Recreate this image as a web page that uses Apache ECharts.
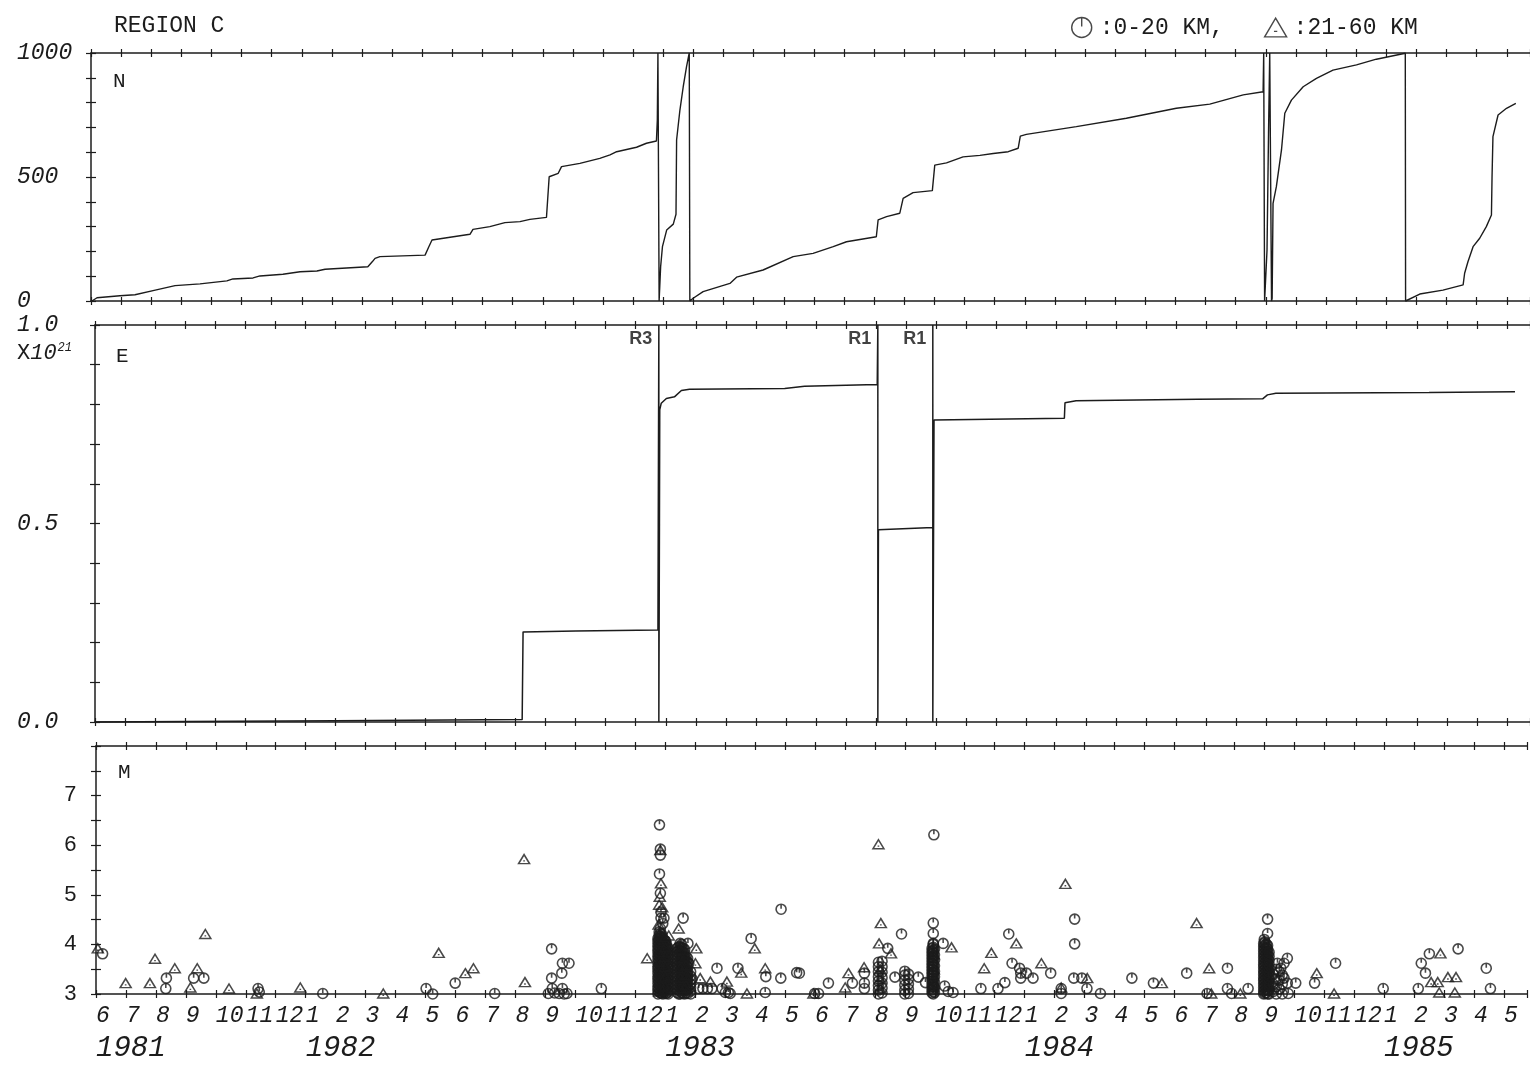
<!DOCTYPE html>
<html><head><meta charset="utf-8">
<script src="https://cdn.jsdelivr.net/npm/echarts@6/dist/echarts.min.js"></script>
<style>html,body{margin:0;padding:0;background:#fff}#c{width:1530px;height:1069px}</style>
</head><body><div id="c"></div>
<script>
// ---------- axis / tick labels ----------
const XMAX = 47.77; // months since 1981-06-01
const monthLabels = ['6','7','8','9','10','11','12','1','2','3','4','5',
                     '6','7','8','9','10','11','12','1','2','3','4','5',
                     '6','7','8','9','10','11','12','1','2','3','4','5',
                     '6','7','8','9','10','11','12','1','2','3','4','5'];
const yearTicks = [0, 7, 19, 31, 43];
const yearNames = ['1981', '1982', '1983', '1984', '1985'];
const nLabels = [0, 500, 1000];
const eLabels = [0, 0.5, 1.0];
const mLabels = [3, 4, 5, 6, 7];

// ---------- N: cumulative number (wraps at 1000) ----------
const nCurve = [
[0.03,0],[0.2,13],[0.25,16],[0.96,21],[1.46,25],[2.06,42],[2.79,62],[3.62,69],[4.51,81],[4.71,89],
[5.38,93],[5.61,101],[6.37,108],[6.94,118],[7.50,121],[7.77,128],[9.19,138],[9.35,160],[9.43,172],[9.59,179],
[11.09,185],[11.2,215],[11.32,246],[11.92,257],[12.58,269],[12.68,289],[13.24,300],[13.74,316],[14.24,320],
[14.57,329],[15.12,337],[15.16,345],[15.21,501],[15.51,515],[15.62,542],[16.23,555],[16.89,575],[17.23,589],
[17.45,602],[18.11,620],[18.44,636],[18.77,645],[18.80,730],[18.82,1000],[18.86,1000],[18.86,0],[18.89,0],
[18.91,138],[18.97,219],[19.11,286],[19.33,310],[19.42,350],[19.44,649],[19.55,770],[19.66,864],[19.77,945],
[19.86,1000],[19.88,1000],[19.88,0],[19.99,11],[20.32,38],[21.21,71],[21.43,96],[22.31,125],[23.31,179],
[23.97,192],[24.64,219],[25.08,239],[26.07,259],[26.13,327],[26.41,340],[26.85,354],[26.96,414],[27.29,437],
[27.93,445],[28.01,548],[28.40,557],[28.95,581],[29.51,587],[29.95,595],[30.45,602],[30.78,616],[30.85,665],
[31.05,672],[32.71,703],[34.37,737],[36.03,777],[37.14,794],[38.25,831],[38.91,844],[38.93,1000],[38.96,1000],
[38.96,0],[39.0,0],[39.04,206],[39.09,676],[39.13,1000],[39.19,1000],[39.19,0],[39.21,11],[39.24,394],
[39.35,461],[39.52,609],[39.63,757],[39.85,810],[40.24,864],[40.68,898],[41.23,931],[42.01,952],[42.67,975],
[43.63,999],[43.64,999],[43.64,0],[43.67,0],[44.11,28],[44.88,44],[45.55,65],[45.60,112],[45.71,158],
[45.88,219],[46.10,253],[46.32,300],[46.49,347],[46.51,501],[46.54,663],[46.71,750],[46.99,777],[47.30,797]
];

// ---------- E: cumulative energy x10^21 (wraps at 1.0) ----------
const eCurve = [
[0,0],[3,0.001],[8,0.003],[14.22,0.006],[14.25,0.006],[14.25,0.227],[16,0.229],[18.74,0.232],[18.77,0.232],
[18.77,1.0],[18.77,0],[18.79,0.5],[18.80,0.786],[18.85,0.803],[19.02,0.815],[19.29,0.819],[19.52,0.835],
[19.79,0.838],[22.96,0.840],[23.62,0.846],[26.04,0.850],[26.06,0.850],[26.06,1.0],[26.06,0],[26.08,0.484],
[27.89,0.490],[27.89,1.0],[27.89,0],[27.93,0.761],[32.27,0.765],[32.29,0.804],[32.66,0.809],[36.70,0.813],
[38.87,0.814],[39.03,0.824],[39.31,0.828],[44.41,0.830],[47.27,0.832]
];
const resetNames = ['R3', 'R1', 'R1'];
const resetTimes = [18.77, 26.06, 27.89];

// ---------- M: magnitudes, focal depth 0-20 km (circles) ----------
const shallowSingle = [
[0.22,3.81],[2.33,3.11],[2.35,3.32],[3.26,3.32],[3.60,3.32],[5.41,3.11],[5.45,3.04],[7.57,3.01],[11.02,3.11],[11.24,3.0],[11.99,3.22],[13.31,3.01],
[15.10,3.01],[15.21,3.91],[15.21,3.32],[15.23,3.11],[15.31,3.02],[15.46,3.01],[15.55,3.42],[15.57,3.62],[15.57,3.11],[15.63,3.0],[15.72,3.01],[15.79,3.62],[16.87,3.11],
[18.81,6.41],[18.84,5.92],[18.84,5.80],[18.81,5.42],[18.84,5.03],[18.86,4.65],[18.86,4.53],[18.96,4.53],[18.84,4.32],[18.92,4.42],
[19.60,4.53],[19.76,4.02],[19.79,3.62],[19.9,3.3],[20.12,3.11],[20.26,3.11],[20.41,3.11],[20.56,3.11],[20.73,3.52],[20.90,3.11],[21.01,3.03],[21.11,3.03],[21.17,3.01],
[21.43,3.52],[21.87,4.12],[22.34,3.03],[22.36,3.35],[22.86,3.32],[22.87,4.71],[23.39,3.43],[23.48,3.42],[23.99,3.01],[24.12,3.01],[24.45,3.22],[25.25,3.22],[25.65,3.42],[25.65,3.22],[25.65,3.11],
[26.43,3.92],[26.89,4.21],[26.67,3.34],[27.45,3.34],[27.69,3.23],[27.97,6.21],[27.95,4.43],[27.95,4.22],[27.95,4.02],[28.28,4.02],[28.33,3.16],[28.45,3.05],[28.61,3.03],
[29.54,3.11],[30.11,3.11],[30.34,3.23],[30.47,4.21],[30.58,3.62],[30.83,3.52],[30.87,3.42],[30.87,3.32],[31.06,3.42],[31.28,3.32],[31.87,3.42],[32.22,3.11],[32.22,3.01],
[32.67,4.51],[32.67,4.01],[32.64,3.32],[32.91,3.32],[33.08,3.11],[33.53,3.01],[34.58,3.32],[35.30,3.22],[36.41,3.42],[37.09,3.01],[37.77,3.52],[37.77,3.11],[37.91,3.01],[38.46,3.11],
[39.11,4.51],[39.11,4.22],[39.0,4.1],[39.44,3.62],[39.66,3.62],[39.77,3.72],[39.55,3.52],[39.66,3.32],[39.77,3.22],[39.80,3.01],[40.05,3.22],
[40.68,3.22],[41.38,3.62],[42.97,3.11],[44.14,3.11],[44.24,3.62],[44.38,3.42],[44.51,3.81],[45.47,3.91],[46.41,3.52],[46.55,3.11]
];
// swarm columns: [time, [magnitudes...]]
const shallowSwarms = [
[18.76,[3.0,3.07,3.13,3.21,3.28,3.34,3.42,3.49,3.55,3.63,3.7,3.77,3.84,3.9,3.98,4.05,4.12]],
[18.80,[3.04,3.11,3.19,3.26,3.33,3.4,3.47,3.54,3.61,3.68,3.75,3.82,3.89,3.96,4.03,4.1,4.18,4.25]],
[18.84,[3.02,3.1,3.17,3.24,3.3,3.38,3.45,3.52,3.6,3.66,3.73,3.8,3.88,3.95,4.02,4.08,4.16,4.22]],
[18.89,[3.01,3.08,3.15,3.22,3.29,3.36,3.43,3.5,3.57,3.64,3.71,3.78,3.85,3.92,3.99,4.06,4.14,4.2]],
[18.93,[3.0,3.05,3.12,3.2,3.26,3.33,3.41,3.47,3.54,3.61,3.69,3.76,3.83,3.9,3.97,4.04,4.1]],
[18.98,[3.03,3.1,3.17,3.24,3.31,3.38,3.46,3.53,3.6,3.67,3.74,3.81,3.88,3.95,4.02,4.08]],
[19.02,[3.01,3.09,3.15,3.23,3.3,3.36,3.44,3.5,3.58,3.65,3.72,3.79,3.86,3.93,4.0,4.06]],
[19.06,[3.02,3.09,3.17,3.24,3.32,3.39,3.46,3.54,3.61,3.68,3.76,3.83,3.9,3.97]],
[19.10,[3.0,3.06,3.14,3.22,3.29,3.35,3.43,3.51,3.57,3.64,3.71,3.78,3.85,3.92]],
[19.40,[3.03,3.1,3.18,3.26,3.34,3.41,3.49,3.56,3.63,3.7,3.78,3.85,3.92]],
[19.45,[3.0,3.08,3.15,3.22,3.3,3.37,3.44,3.52,3.59,3.66,3.74,3.81,3.88,3.95]],
[19.50,[3.0,3.06,3.13,3.2,3.27,3.35,3.42,3.5,3.57,3.64,3.72,3.8,3.87,3.95,4.02]],
[19.55,[3.02,3.1,3.17,3.25,3.32,3.4,3.47,3.55,3.62,3.7,3.77,3.85,3.93,4.0]],
[19.60,[3.01,3.08,3.16,3.23,3.31,3.38,3.46,3.53,3.61,3.68,3.76,3.84,3.92]],
[19.65,[3.0,3.07,3.14,3.21,3.29,3.36,3.43,3.51,3.58,3.66,3.74,3.82,3.9]],
[19.70,[3.02,3.1,3.18,3.26,3.34,3.42,3.5,3.58,3.66,3.75]],
[19.75,[3.01,3.09,3.16,3.24,3.31,3.39,3.46,3.55,3.64,3.72]],
[19.85,[3.0,3.06,3.13,3.2,3.28,3.36,3.45]],
[26.12,[3.0,3.08,3.17,3.26,3.35,3.45,3.55,3.64]],
[26.24,[3.02,3.12,3.22,3.33,3.44,3.55,3.66]],
[27.0,[3.0,3.08,3.18,3.28,3.38,3.46]],
[27.12,[3.01,3.1,3.2,3.3,3.4]],
[27.91,[3.02,3.08,3.14,3.2,3.26,3.32,3.38,3.44,3.5,3.56,3.62,3.68,3.74,3.8,3.86,3.92]],
[27.95,[3.0,3.05,3.1,3.16,3.21,3.27,3.32,3.38,3.43,3.49,3.55,3.6,3.66,3.72,3.77,3.83,3.88,3.94,4.0]],
[27.99,[3.03,3.13,3.24,3.35,3.46,3.57,3.68,3.79,3.9]],
[38.98,[3.0,3.06,3.13,3.2,3.27,3.33,3.4,3.47,3.54,3.6,3.67,3.74,3.81,3.88,3.95,4.02]],
[39.02,[3.01,3.08,3.15,3.22,3.29,3.36,3.43,3.5,3.57,3.64,3.71,3.78,3.85,3.92,3.99,4.05]],
[39.07,[3.02,3.09,3.16,3.23,3.3,3.37,3.44,3.51,3.58,3.65,3.72,3.79,3.86,3.93,4.0]],
[39.11,[3.0,3.07,3.14,3.21,3.28,3.35,3.42,3.49,3.56,3.63,3.7,3.77,3.84,3.91,3.98]],
[39.16,[3.0,3.08,3.15,3.22,3.3,3.37,3.45,3.52,3.6,3.68,3.76,3.84]],
[39.3,[3.05,3.2,3.4]],[39.4,[3.0,3.15,3.3,3.5]],[39.5,[3.1,3.28,3.45]],[39.6,[3.0,3.2,3.38]]
];

// ---------- M: magnitudes, focal depth 21-60 km (triangles) ----------
const deepSingle = [
[0.06,3.92],[0.99,3.22],[1.80,3.22],[1.97,3.71],[2.63,3.52],[3.15,3.13],[3.38,3.52],[3.65,4.21],[4.44,3.11],[5.37,3.01],[6.82,3.13],[9.59,3.01],
[11.44,3.83],[12.33,3.42],[12.60,3.52],[14.29,5.72],[14.32,3.24],[18.40,3.72],
[18.84,5.90],[18.86,5.23],[18.82,4.96],[18.80,4.80],[18.90,4.75],[18.78,4.40],[19.45,4.32],[19.12,4.18],[20.04,3.92],[20.01,3.62],[20.17,3.32],
[20.51,3.25],[21.06,3.25],[21.54,3.43],[21.73,3.01],[21.99,3.92],[22.34,3.52],[23.95,3.01],
[25.01,3.13],[25.12,3.42],[25.64,3.54],[26.12,6.02],[26.20,4.43],[26.14,4.02],[26.54,3.82],[28.56,3.94],[29.65,3.52],[29.89,3.83],[30.72,4.02],
[31.56,3.62],[32.22,3.13],[32.36,5.22],[33.09,3.32],[35.58,3.22],[36.74,4.43],[37.16,3.52],[37.23,3.01],[38.20,3.01],[40.75,3.42],[41.33,3.01],
[44.57,3.24],[44.79,3.24],[44.84,3.03],[44.88,3.82],[45.13,3.34],[45.40,3.34],[45.36,3.03]
];
const deepSwarms = [
[18.80,[3.05,3.25,3.45,3.65,3.85,4.05,4.2]],
[19.00,[3.15,3.35,3.55,3.75,3.95,4.15]],
[19.50,[3.12,3.32,3.52,3.72,3.9]],
[19.70,[3.18,3.38,3.58,3.78]],
[26.18,[3.1,3.3,3.5]],
[27.97,[3.2,3.5,3.8]]
];

// ---------- build ----------
const INK = '#1c1c1c';
const FONT = '"Liberation Mono", "DejaVu Sans Mono", monospace';
const circleSym = 'path://M0,-10A10,10,0,1,1,0,10A10,10,0,1,1,0,-10ZM0,-10L0,-1';
const triSym = 'path://M0,-9L10,8L-10,8ZM-1.5,3L1.5,3';

function flatten(single, swarms) {
  const out = single.slice();
  swarms.forEach(([t, ms]) => ms.forEach(m => out.push([t, m])));
  return out;
}
const shallowData = flatten(shallowSingle, shallowSwarms);
const deepData = flatten(deepSingle, deepSwarms);

function isInt(v) { return Math.abs(v - Math.round(v)) < 1e-6; }
const lineStyle = { color: INK, width: 1.5 };
const tickStyle = { color: INK, width: 1.2 };

function xAxesFor(gi, labelCfg) {
  const base = { gridIndex: gi, type: 'value', min: 0, max: XMAX, interval: 1, splitLine: { show: false }, axisLabel: { show: false } };
  return [
    Object.assign({}, base, { position: 'bottom', axisLine: { show: true, onZero: false, lineStyle }, axisTick: { show: true, inside: false, length: 4, lineStyle: tickStyle }, axisLabel: labelCfg || { show: false } }),
    Object.assign({}, base, { position: 'bottom', axisLine: { show: false, onZero: false }, axisTick: { show: true, inside: true, length: 4, lineStyle: tickStyle } }),
    Object.assign({}, base, { position: 'top', axisLine: { show: true, onZero: false, lineStyle }, axisTick: { show: true, inside: false, length: 4, lineStyle: tickStyle } }),
    Object.assign({}, base, { position: 'top', axisLine: { show: false, onZero: false }, axisTick: { show: true, inside: true, length: 4, lineStyle: tickStyle } })
  ];
}
function yAxesFor(gi, min, max, interval, labelCfg) {
  const base = { gridIndex: gi, type: 'value', min, max, interval, position: 'left', splitLine: { show: false } };
  return [
    Object.assign({}, base, { axisLine: { show: true, onZero: false, lineStyle }, axisTick: { show: true, inside: false, length: 5, lineStyle: tickStyle }, axisLabel: labelCfg }),
    Object.assign({}, base, { axisLine: { show: false, onZero: false }, axisTick: { show: true, inside: true, length: 5, lineStyle: tickStyle }, axisLabel: { show: false } })
  ];
}
function pick(list) {
  return v => { const hit = list.find(x => Math.abs(x - v) < 1e-6); return hit === undefined ? '' : String(hit); };
}

const xAxis = [].concat(
  xAxesFor(0),
  xAxesFor(1),
  xAxesFor(2, {
    show: true, align: 'left', margin: 10, fontSize: 23, fontStyle: 'italic', fontFamily: FONT, color: INK,
    formatter: v => (isInt(v) && Math.round(v) < monthLabels.length) ? monthLabels[Math.round(v)] : ''
  }),
  [{
    gridIndex: 2, type: 'value', min: 0, max: XMAX, interval: 1, position: 'bottom',
    axisLine: { show: false, onZero: false }, axisTick: { show: false }, splitLine: { show: false },
    axisLabel: {
      show: true, align: 'left', margin: 40, fontSize: 29, fontStyle: 'italic', fontFamily: FONT, color: INK,
      formatter: v => { const i = yearTicks.findIndex(t => Math.abs(t - v) < 1e-6); return i < 0 ? '' : yearNames[i]; }
    }
  }]
);
const yAxis = [].concat(
  yAxesFor(0, 0, 1000, 100, { show: true, align: 'left', margin: 74, fontSize: 23, fontStyle: 'italic', fontFamily: FONT, color: INK, formatter: pick(nLabels) }),
  yAxesFor(1, 0, 1, 0.1, { show: true, align: 'left', margin: 78, fontSize: 23, fontStyle: 'italic', fontFamily: FONT, color: INK,
    formatter: v => { const h = eLabels.find(x => Math.abs(x - v) < 1e-6); return h === undefined ? '' : h.toFixed(1); } }),
  yAxesFor(2, 3, 8, 0.5, { show: true, align: 'right', margin: 19, fontSize: 22, fontFamily: FONT, color: INK, formatter: pick(mLabels) })
);

const chart = echarts.init(document.getElementById('c'), null, { renderer: 'canvas' });
chart.setOption({
  animation: false,
  backgroundColor: '#fff',
  grid: [
    { left: 91, top: 53, width: 1439, height: 248 },
    { left: 95, top: 325, width: 1435, height: 397 },
    { left: 96, top: 746, width: 1434, height: 248 }
  ],
  xAxis, yAxis,
  legend: {
    left: 1066, top: 11, itemWidth: 22, itemHeight: 20, itemGap: 40, selectedMode: false,
    itemStyle: { color: 'rgba(0,0,0,0)', borderColor: INK, borderWidth: 1.4 },
    textStyle: { fontFamily: FONT, fontSize: 23, color: INK, padding: [0, 0, 0, 2] },
    data: [{ name: ':0-20 KM,', icon: circleSym }, { name: ':21-60 KM', icon: triSym }]
  },
  graphic: [
    { type: 'text', left: 114, top: 14, style: { text: 'REGION C', font: '23px ' + FONT, fill: INK } },
    { type: 'text', left: 113, top: 71, style: { text: 'N', font: '21px ' + FONT, fill: INK } },
    { type: 'text', left: 116, top: 346, style: { text: 'E', font: '21px ' + FONT, fill: INK } },
    { type: 'text', left: 118, top: 762, style: { text: 'M', font: '21px ' + FONT, fill: INK } },
    { type: 'text', left: 17, top: 342, style: {
      text: '{a|X}{b|10}{s|21}',
      rich: {
        a: { font: '22px ' + FONT, fill: INK },
        b: { font: 'italic 22px ' + FONT, fill: INK },
        s: { font: 'italic 12px ' + FONT, fill: INK, verticalAlign: 'top', padding: [0, 0, 10, 1] }
      }
    } }
  ],
  series: [
    { type: 'line', name: 'N', xAxisIndex: 0, yAxisIndex: 0, data: nCurve, showSymbol: false, symbol: 'none',
      lineStyle: { color: INK, width: 1.4 }, clip: false },
    { type: 'line', name: 'E', xAxisIndex: 4, yAxisIndex: 2, data: eCurve, showSymbol: false, symbol: 'none',
      lineStyle: { color: INK, width: 1.5 }, clip: false },
    { type: 'scatter', name: 'resets', xAxisIndex: 4, yAxisIndex: 2, symbol: 'rect', symbolSize: 1,
      itemStyle: { color: 'rgba(0,0,0,0)' },
      data: resetTimes.map(t => [t, 1.0]),
      label: { show: true, formatter: p => resetNames[p.dataIndex], position: [-6, 6], align: 'right', verticalAlign: 'top',
        fontFamily: '"Liberation Sans", Arial, sans-serif', fontSize: 18, fontWeight: 'bold', color: '#111' } },
    { type: 'scatter', name: ':0-20 KM,', xAxisIndex: 8, yAxisIndex: 4, data: shallowData, symbol: circleSym, symbolSize: 10,
      itemStyle: { color: 'rgba(0,0,0,0)', borderColor: INK, borderWidth: 1.6 } },
    { type: 'scatter', name: ':21-60 KM', xAxisIndex: 8, yAxisIndex: 4, data: deepData, symbol: triSym, symbolSize: [11, 9],
      itemStyle: { color: 'rgba(0,0,0,0)', borderColor: INK, borderWidth: 1.5 } }
  ]
});
</script></body></html>
